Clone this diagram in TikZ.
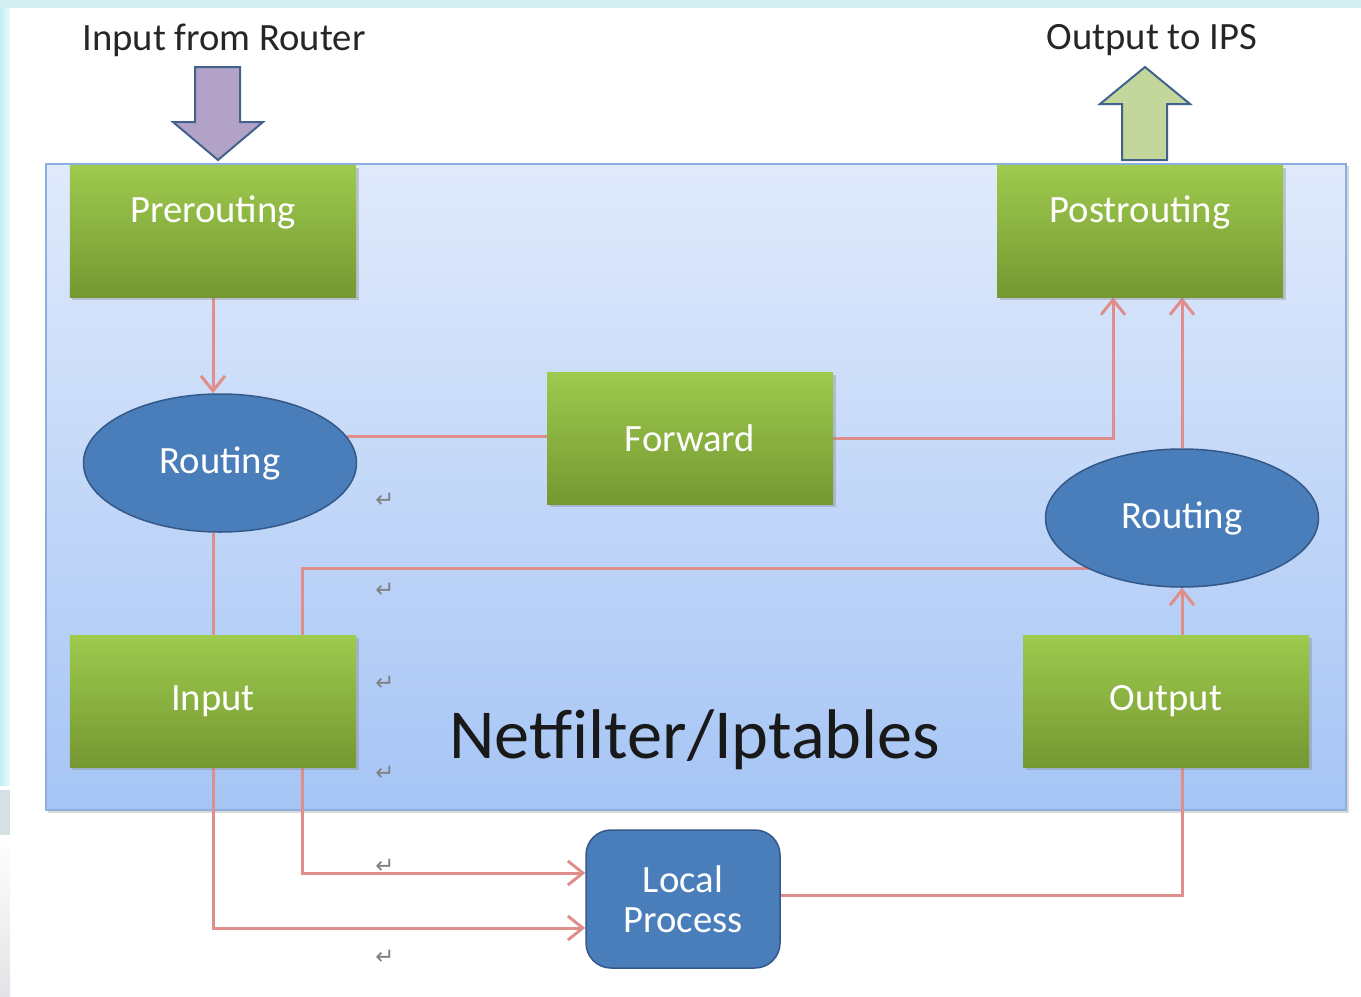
\documentclass[tikz,border=0pt]{standalone}
\usepackage{fontspec}
\setmainfont{Carlito}
\newfontfamily\symfont{DejaVu Sans}
\usetikzlibrary{shapes.geometric,arrows.meta,shadows}
\definecolor{boxtop}{RGB}{158,202,78}
\definecolor{boxbot}{RGB}{117,152,50}
\definecolor{ovalfill}{RGB}{74,126,187}
\definecolor{ovaldraw}{RGB}{52,88,135}
\definecolor{flowred}{RGB}{224,142,140}
\definecolor{frametop}{RGB}{224,234,251}
\definecolor{framebot}{RGB}{166,197,245}
\definecolor{framedraw}{RGB}{140,176,222}
\definecolor{inpurple}{RGB}{179,162,199}
\definecolor{outgreen}{RGB}{195,214,155}
\definecolor{arrowdraw}{RGB}{66,98,142}
\definecolor{edgecyan}{RGB}{212,240,241}
\pgfdeclarelayer{bg}
\pgfdeclarelayer{lines}
\pgfsetlayers{bg,lines,main}
\tikzset{
  stage/.style={rectangle, minimum width=57.2mm, minimum height=26.4mm, inner sep=0pt,
    top color=boxtop, bottom color=boxbot, text=white, font=\fontsize{22}{24}\selectfont,
    drop shadow={shadow xshift=0.5mm, shadow yshift=-0.5mm, opacity=0.35}},
  decide/.style={ellipse, minimum width=54.6mm, minimum height=27.6mm, inner sep=0pt,
    fill=ovalfill, draw=ovaldraw, line width=0.3mm, text=white, font=\fontsize{22}{24}\selectfont},
  task/.style={rectangle, rounded corners=5mm, minimum width=38.8mm, minimum height=27.6mm,
    inner sep=0pt, fill=ovalfill, draw=ovaldraw, line width=0.3mm, text=white, align=center,
    font=\fontsize{22}{23}\selectfont},
  flow/.style={draw=flowred, line width=0.6mm},
  flowto/.style={flow, -{Straight Barb[length=3mm,width=4.8mm,line width=0.6mm]}},
  caption/.style={text=black!85, font=\fontsize{22}{24}\selectfont},
  retmark/.style={text=black!50, font=\symfont\fontsize{13}{13}\selectfont},
  blockarrow/.style={draw=arrowdraw, line width=0.4mm, line join=miter}
}
\begin{document}
\begin{tikzpicture}[x=0.2mm, y=-0.2mm]
\useasboundingbox (0,0) rectangle (1361,997);
% page edges
\fill[edgecyan] (0,0) rectangle (1361,8);
\shade[left color=edgecyan!90!cyan, right color=edgecyan!40] (0,8) rectangle (10,785);
\fill[cyan!25!gray!30] (0,790) rectangle (10,835);
\shade[top color=white, bottom color=blue!8!gray!20] (0,835) rectangle (10,997);

% netfilter frame
\begin{pgfonlayer}{bg}
\node[rectangle, minimum width=260mm, minimum height=129.2mm, inner sep=0pt,
  top color=frametop, bottom color=framebot, draw=framedraw, line width=0.3mm,
  drop shadow={shadow xshift=0.5mm, shadow yshift=-0.5mm, opacity=0.3}] (frame) at (696,487) {};
\end{pgfonlayer}
\node[font=\fontsize{40}{44}\selectfont, text=black!90] (nf) at (695,740) {Netfilter/Iptables};

% chains
\node[stage] (pre) at (213,231) {\raisebox{8.8mm}{Prerouting}};
\node[stage] (post) at (1140,231) {\raisebox{8.8mm}{Postrouting}};
\node[stage] (fwd) at (690,438) {Forward};
\node[stage] (inp) at (213,701) {Input};
\node[stage] (outp) at (1166,701) {Output};
\node[decide] (routL) at (220,463) {Routing};
\node[decide] (routR) at (1182,518) {Routing};
\node[task] (lp) at (683,899) {Local\\Process};

% in and out
\node[caption] (incap) at (224,40) {Input from Router};
\node[caption] (outcap) at (1152,40) {Output to IPS};
\draw[blockarrow, fill=inpurple] (195,67) -- (240,67) -- (240,122) -- (263,122) -- (218,160) -- (173,122) -- (195,122) -- cycle;
\draw[blockarrow, fill=outgreen] (1122,160) -- (1122,104) -- (1100,104) -- (1145,67) -- (1190,104) -- (1167,104) -- (1167,160) -- cycle;

% flows
\coordinate (turn) at (302,568);
\begin{pgfonlayer}{lines}
\draw[flowto] (pre.south) -- (pre.south |- routL.north);
\draw[flow] (routL.12) -- (routL.12 -| fwd.west);
\draw[flowto] (fwd.east) -| ([xshift=-5.4mm]post.south);
\draw[flowto] (routR.north) -- (routR.north |- post.south);
\draw[flow] (inp.north |- routL.south) -- (inp.north);
\draw[flowto] (routR.center |- turn) -- (turn) |- ([yshift=5.2mm]lp.west);
\draw[flowto] (inp.south) |- ([yshift=-5.8mm]lp.west);
\draw[flow] ([yshift=0.8mm]lp.east) -| (routR.south |- outp.south);
\draw[flowto] (routR.south |- outp.north) -- (routR.south);
\end{pgfonlayer}

% paragraph marks
\foreach \ry in {500,590,683,773,866,957}
  \node[retmark] (ret\ry) at (385,\ry) {↵};
\end{tikzpicture}
\end{document}
